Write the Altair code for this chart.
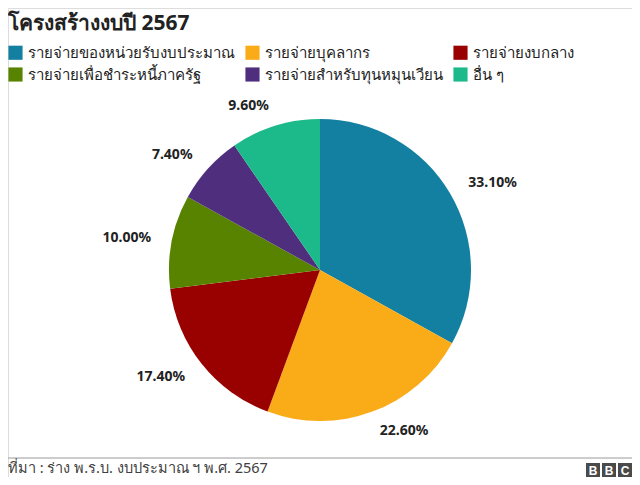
import altair as alt
import pandas as pd

categories = [
    "รายจ่ายของหน่วยรับงบประมาณ",
    "รายจ่ายบุคลากร",
    "รายจ่ายงบกลาง",
    "รายจ่ายเพื่อชำระหนี้ภาครัฐ",
    "รายจ่ายสำหรับทุนหมุนเวียน",
    "อื่น ๆ",
]
values = [33.10, 22.60, 17.40, 10.00, 7.40, 9.60]
colors = ["#1380A1", "#FAAB18", "#990000", "#588300", "#4F2F7D", "#1CB98A"]
title_text = "โครงสร้างงบปี 2567"
source_text = "ที่มา : ร่าง พ.ร.บ. งบประมาณ ฯ พ.ศ. 2567"
logo_letters = ["B", "B", "C"]

df = pd.DataFrame({
    "category": categories,
    "value": values,
    "order": list(range(len(categories))),
    "label": [f"{v:.2f}%" for v in values],
})

FONT = "Noto Sans"
W, H = 624, 469
CX, CY = 312, 262

color = alt.Color(
    "category:N",
    scale=alt.Scale(domain=categories, range=colors),
    sort=categories,
    legend=alt.Legend(
        title=None,
        orient="none",
        direction="horizontal",
        legendX=0,
        legendY=37,
        columns=3,
        symbolType="square",
        symbolSize=200,
        symbolStrokeWidth=0,
        labelFontSize=15,
        labelFont=FONT,
        labelColor="#222222",
        labelLimit=300,
        labelOffset=5,
        columnPadding=10,
        rowPadding=6,
        symbolOffset=0,
    ),
)

pie = alt.Chart(df).mark_arc(radius=151).encode(
    theta=alt.Theta("value:Q", stack=True),
    order=alt.Order("order:Q"),
    color=color,
    x=alt.value(CX),
    y=alt.value(CY),
)

lab_base = alt.Chart(df).transform_joinaggregate(
    total="sum(value)"
).transform_window(
    cum="sum(value)", sort=[alt.SortField("order")], frame=[None, 0]
).transform_calculate(
    mid="(datum.cum - datum.value / 2) / datum.total"
)

theta_scale = alt.Scale(domain=[0, 1], range=[0, 6.283185307179586])

labels_right = lab_base.transform_filter("datum.mid < 0.5").mark_text(
    radius=172, font=FONT, fontSize=14, fontWeight="bold", color="#222222",
    align="left", baseline="middle",
).encode(
    theta=alt.Theta("mid:Q", scale=theta_scale, stack=None),
    text="label:N",
    x=alt.value(CX),
    y=alt.value(CY),
)

labels_left = lab_base.transform_filter("datum.mid >= 0.5").mark_text(
    radius=172, font=FONT, fontSize=14, fontWeight="bold", color="#222222",
    align="right", baseline="middle",
).encode(
    theta=alt.Theta("mid:Q", scale=theta_scale, stack=None),
    text="label:N",
    x=alt.value(CX),
    y=alt.value(CY),
)

labels = alt.layer(labels_right, labels_left)

dummy = alt.Data(values=[{"a": 1}])

title = alt.Chart(dummy).mark_text(
    text=title_text, font=FONT, fontSize=21, fontWeight="bold",
    color="#222222", align="left", baseline="middle",
).encode(x=alt.value(0), y=alt.value(16))

rule = alt.Chart(dummy).mark_rule(color="#9a9a9a", strokeWidth=1).encode(
    x=alt.value(0), x2=alt.value(W), y=alt.value(450)
)

source = alt.Chart(dummy).mark_text(
    text=source_text, font=FONT, fontSize=14.5, color="#404040",
    align="left", baseline="middle",
).encode(x=alt.value(0), y=alt.value(461))

layers = [alt.layer(pie, labels).resolve_scale(theta="independent"), title, rule, source]

for i, letter in enumerate(logo_letters):
    x0 = W - 46 + i * 16
    box = alt.Chart(dummy).mark_rect(color="#4a4a4a").encode(
        x=alt.value(x0), x2=alt.value(x0 + 14),
        y=alt.value(455), y2=alt.value(469),
    )
    txt = alt.Chart(dummy).mark_text(
        text=letter, font="Liberation Sans", fontSize=12, fontWeight="bold",
        color="#ffffff", align="center", baseline="middle",
    ).encode(x=alt.value(x0 + 7), y=alt.value(462.5))
    layers += [box, txt]

chart = alt.layer(*layers).properties(
    width=W, height=H,
    autosize=alt.AutoSizeParams(type="none"),
    padding=0,
).configure_view(stroke=None).configure(background="#ffffff")

chart.save("out.html", embed_options={"renderer": "svg", "actions": False})
